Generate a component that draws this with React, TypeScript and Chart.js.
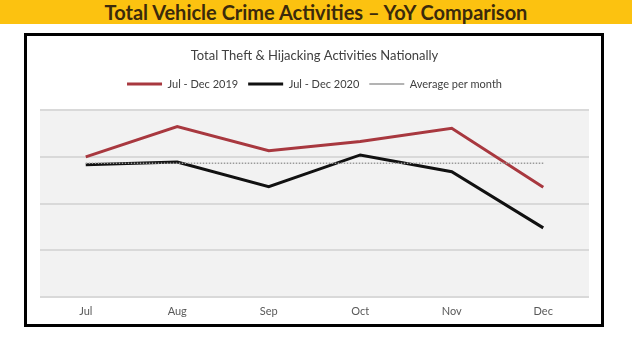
import React, { useEffect, useRef } from "react";
import { Chart, registerables } from "chart.js";

Chart.register(...registerables);

const MONTHS = ["Jul", "Aug", "Sep", "Oct", "Nov", "Dec"];
const SERIES_2019 = [3000, 3650, 3130, 3330, 3610, 2350];
const SERIES_2020 = [2830, 2890, 2360, 3040, 2680, 1480];
const AVERAGE = [2860, 2860, 2860, 2860, 2860, 2860];
const LABEL_2019 = "Jul - Dec 2019";
const LABEL_2020 = "Jul - Dec 2020";
const LABEL_AVG = "Average per month";
const Y_MIN = 0;
const Y_MAX = 4000;
const Y_STEP = 1000;

const plotBg = {
  id: "plotBg",
  beforeDraw(chart: any) {
    const { ctx, chartArea } = chart;
    if (!chartArea) return;
    ctx.save();
    ctx.fillStyle = "#f2f2f2";
    ctx.fillRect(chartArea.left, chartArea.top, chartArea.right - chartArea.left, chartArea.bottom - chartArea.top);
    ctx.restore();
  },
};

const legendGap = {
  id: "legendGap",
  beforeInit(chart: any) {
    const legend = chart.legend;
    if (!legend) return;
    const fit = legend.fit;
    legend.fit = function () {
      fit.call(this);
      this.height += 10.5;
    };
  },
};

export default function App() {
  const ref = useRef<HTMLCanvasElement | null>(null);

  useEffect(() => {
    if (!ref.current) return;
    const font = "Lato, 'Open Sans', sans-serif";
    const chart = new Chart(ref.current, {
      type: "line",
      data: {
        labels: MONTHS,
        datasets: [
          {
            label: LABEL_2019,
            data: SERIES_2019,
            borderColor: "#a8383f",
            backgroundColor: "#a8383f",
            borderWidth: 3,
            pointRadius: 0,
            borderJoinStyle: "miter",
            order: 1,
          },
          {
            label: LABEL_2020,
            data: SERIES_2020,
            borderColor: "#111111",
            backgroundColor: "#111111",
            borderWidth: 3,
            pointRadius: 0,
            borderJoinStyle: "miter",
            order: 2,
          },
          {
            label: LABEL_AVG,
            data: AVERAGE,
            borderColor: "#9a9a9a",
            backgroundColor: "#9a9a9a",
            borderWidth: 1.5,
            borderDash: [1.5, 1.5],
            pointRadius: 0,
            order: 0,
          },
        ],
      },
      options: {
        responsive: false,
        animation: false,
        layout: { padding: { left: 13, right: 12, top: 0, bottom: 0 } },
        plugins: {
          title: {
            display: true,
            text: "Total Theft & Hijacking Activities Nationally",
            color: "#404040",
            font: { family: font, size: 13, weight: "normal" },
            padding: { top: 12, bottom: 5 },
          },
          legend: {
            display: true,
            position: "top",
            labels: {
              usePointStyle: true,
              pointStyle: "line",
              pointStyleWidth: 35,
              padding: 10,
              color: "#404040",
              font: { family: font, size: 11 },
              sort: (a: any, b: any) => a.datasetIndex - b.datasetIndex,
            },
          },
          tooltip: { enabled: false },
        },
        scales: {
          x: {
            offset: true,
            grid: { display: false, drawTicks: false },
            border: { display: false },
            ticks: {
              color: "#595959",
              font: { family: font, size: 11 },
              padding: 8,
            },
            afterFit: (scale: any) => {
              scale.height = 27;
            },
          },
          y: {
            min: Y_MIN,
            max: Y_MAX,
            ticks: { display: false, stepSize: Y_STEP },
            grid: { color: "#d9d9d9", lineWidth: 2, drawTicks: false },
            border: { display: false },
          },
        },
      },
      plugins: [plotBg, legendGap],
    } as any);
    return () => chart.destroy();
  }, []);

  return (
    <div
      style={{
        position: "fixed",
        left: 0,
        top: 0,
        width: 632,
        height: 357,
        background: "#ffffff",
        overflow: "hidden",
      }}
    >
      <div
        style={{
          position: "absolute",
          left: 0,
          top: 0,
          width: 632,
          height: 24,
          background: "#fcc210",
          color: "#3b2a0c",
          fontFamily: "Lato, 'Open Sans', sans-serif",
          fontWeight: 700,
          fontSize: 20,
          lineHeight: "24px",
          textAlign: "center",
          whiteSpace: "nowrap",
        }}
      >
        Total Vehicle Crime Activities – YoY Comparison
      </div>
      <div
        style={{
          position: "absolute",
          left: 24,
          top: 33,
          width: 574,
          height: 288,
          border: "3px solid #000",
          background: "#ffffff",
        }}
      >
        <canvas ref={ref} width={574} height={288} style={{ display: "block", width: 574, height: 288 }} />
      </div>
    </div>
  );
}
